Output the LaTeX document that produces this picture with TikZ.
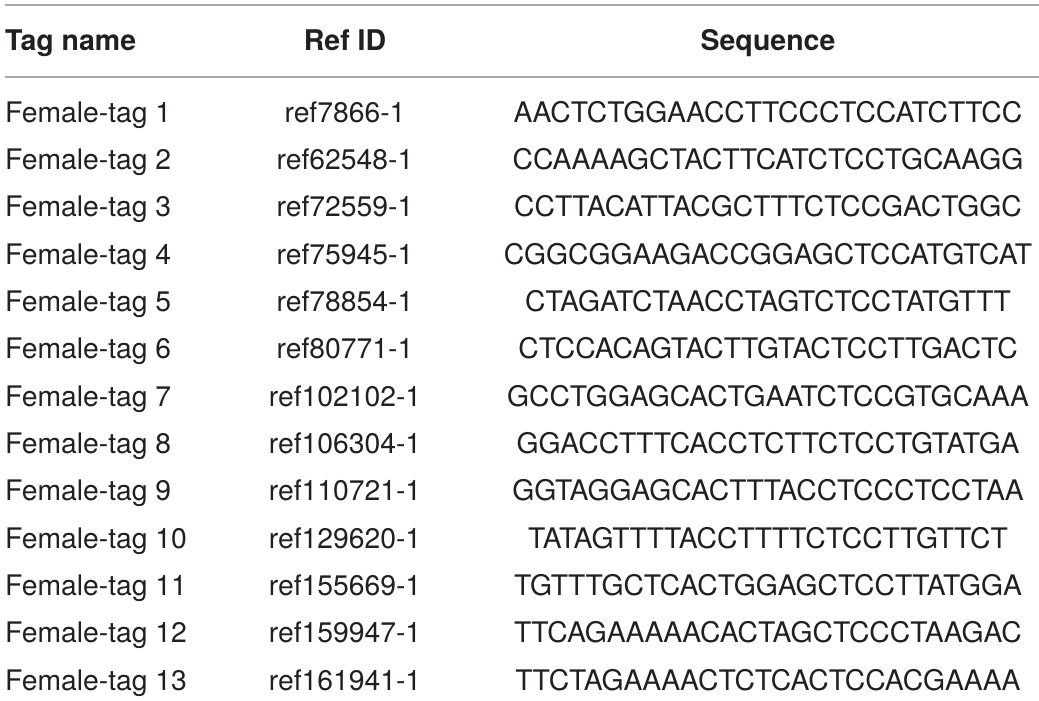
\documentclass[tikz,border=0pt]{standalone}
\usepackage{fontspec}
\setmainfont{TeX Gyre Heros}
\definecolor{txt}{HTML}{231F20}
\definecolor{rule}{HTML}{A8A8A8}
\begin{document}
\begin{tikzpicture}[x=1pt,y=-1pt,
  cell/.style={inner sep=0pt,text=txt,font=\fontsize{28.3}{32}\selectfont,anchor=base},
  hd/.style={cell,font=\fontsize{28.5}{32}\selectfont\bfseries},
  hrule/.style={draw=rule,line width=1.3pt}]
\useasboundingbox (0,0) rectangle (1039,701);
\draw[hrule] (5,5) -- (1039,5);
\draw[hrule] (5,77) -- (1039,77);
\node[hd,anchor=base west] (h1) at (5,51) {Tag name};
\node[hd] (h2) at (345,51) {Ref ID};
\node[hd] (h3) at (768,51) {Sequence};
\foreach \i/\r/\s in {1/ref7866-1/AACTCTGGAACCTTCCCTCCATCTTCC,
2/ref62548-1/CCAAAAGCTACTTCATCTCCTGCAAGG,
3/ref72559-1/CCTTACATTACGCTTTCTCCGACTGGC,
4/ref75945-1/CGGCGGAAGACCGGAGCTCCATGTCAT,
5/ref78854-1/CTAGATCTAACCTAGTCTCCTATGTTT,
6/ref80771-1/CTCCACAGTACTTGTACTCCTTGACTC,
7/ref102102-1/GCCTGGAGCACTGAATCTCCGTGCAAA,
8/ref106304-1/GGACCTTTCACCTCTTCTCCTGTATGA,
9/ref110721-1/GGTAGGAGCACTTTACCTCCCTCCTAA,
10/ref129620-1/TATAGTTTTACCTTTTCTCCTTGTTCT,
11/ref155669-1/TGTTTGCTCACTGGAGCTCCTTATGGA,
12/ref159947-1/TTCAGAAAAACACTAGCTCCCTAAGAC,
13/ref161941-1/TTCTAGAAAACTCTCACTCCACGAAAA}{
  \pgfmathsetmacro{\yy}{122+(\i-1)*47.35}
  \node[cell,anchor=base west] (t\i) at (5,\yy) {Female-tag \i};
  \node[cell] (r\i) at (345,\yy) {\r};
  \node[cell] (s\i) at (768,\yy) {\s};
}
\end{tikzpicture}
\end{document}
